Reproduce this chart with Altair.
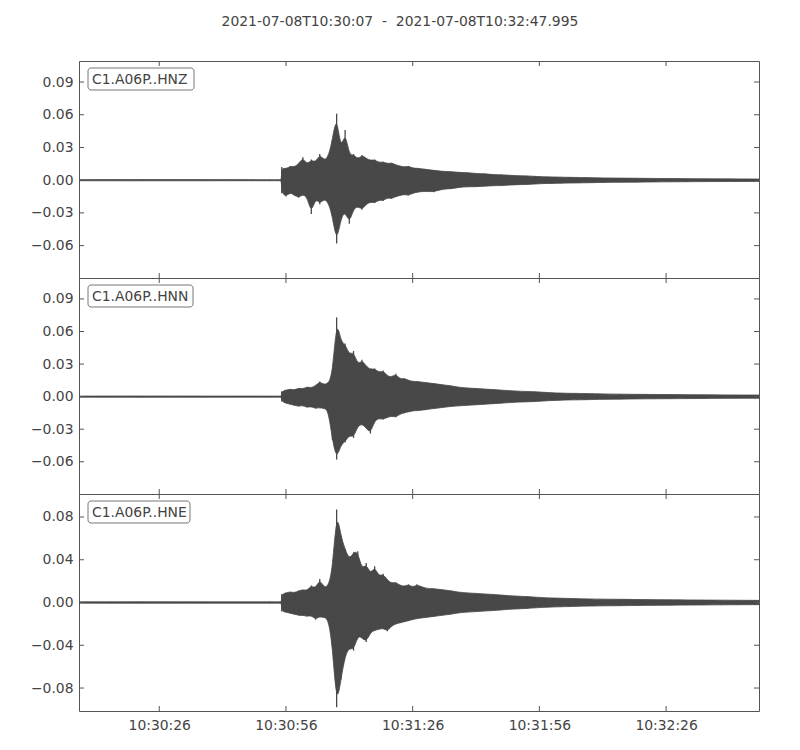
import altair as alt
import pandas as pd

# ---------------- data ----------------
TITLE = "2021-07-08T10:30:07\u00a0\u00a0-\u00a0\u00a02021-07-08T10:32:47.995"
CHANNELS = ["C1.A06P..HNZ", "C1.A06P..HNN", "C1.A06P..HNE"]
DURATION_S = 160.995  # seconds after 10:30:07

# envelope sample times (seconds after 10:30:07)
TIME_S = [0, 15, 30, 45, 47, 47.6, 47.95,
          48, 49, 50, 51, 52, 53, 54, 55, 56, 57, 58, 59,
          60, 61, 62, 63, 64, 65, 66, 67, 68, 69, 70, 71, 72, 73, 74, 75, 76, 77, 78, 79, 80,
          82, 84, 86, 88, 90, 92, 94, 96, 98, 100, 102, 104, 106, 108, 110, 112, 114, 116, 118, 120,
          124, 128, 132, 136, 140, 144, 148, 152, 156, 160, 160.99]

# HNZ envelope (upper / lower)
Z_UP = [0.0005, 0.0006, 0.0005, 0.0005, 0.0005, 0.0005, 0.0005,
        0.012, 0.010, 0.013, 0.012, 0.015, 0.021, 0.014, 0.019, 0.016, 0.024, 0.018, 0.021,
        0.037, 0.061, 0.026, 0.046, 0.022, 0.024, 0.019, 0.023, 0.020, 0.018, 0.019, 0.016, 0.017, 0.015, 0.016, 0.014, 0.013, 0.012, 0.013, 0.011, 0.011,
        0.010, 0.009, 0.008, 0.008, 0.007, 0.007, 0.006, 0.006, 0.005, 0.005, 0.0045, 0.004, 0.004, 0.0035, 0.003, 0.003, 0.0028, 0.0026, 0.0025, 0.0024,
        0.002, 0.0019, 0.0018, 0.0016, 0.0015, 0.0014, 0.0013, 0.0012, 0.0012, 0.0011, 0.0011]
Z_LO = [-0.0005, -0.0006, -0.0005, -0.0005, -0.0005, -0.0005, -0.0005,
        -0.012, -0.015, -0.011, -0.014, -0.016, -0.013, -0.015, -0.031, -0.016, -0.022, -0.017, -0.020,
        -0.033, -0.058, -0.035, -0.028, -0.040, -0.026, -0.024, -0.027, -0.022, -0.020, -0.021, -0.018, -0.019, -0.016, -0.017, -0.015, -0.014, -0.013, -0.014, -0.012, -0.011,
        -0.010, -0.011, -0.008, -0.008, -0.0065, -0.006, -0.006, -0.0055, -0.005, -0.005, -0.0045, -0.004, -0.004, -0.0035, -0.003, -0.003, -0.0028, -0.0026, -0.0025, -0.0024,
        -0.002, -0.0019, -0.0018, -0.0016, -0.0015, -0.0014, -0.0013, -0.0012, -0.0012, -0.0011, -0.0011]

# HNN envelope
N_UP = [0.0005, 0.0006, 0.0005, 0.0005, 0.0005, 0.0005, 0.0005,
        0.005, 0.006, 0.007, 0.006, 0.008, 0.007, 0.009, 0.008, 0.010, 0.014, 0.011, 0.012,
        0.020, 0.073, 0.050, 0.049, 0.038, 0.042, 0.029, 0.034, 0.028, 0.025, 0.026, 0.022, 0.024, 0.019, 0.018, 0.021, 0.016, 0.017, 0.015, 0.014, 0.014,
        0.013, 0.012, 0.011, 0.010, 0.0085, 0.008, 0.0075, 0.007, 0.0065, 0.006, 0.0055, 0.005, 0.0048, 0.0045, 0.004, 0.0035, 0.0033, 0.003, 0.003, 0.0028,
        0.0025, 0.0023, 0.0021, 0.002, 0.0019, 0.0018, 0.0017, 0.0016, 0.0015, 0.0015, 0.0015]
N_LO = [-0.0005, -0.0006, -0.0005, -0.0005, -0.0005, -0.0005, -0.0005,
        -0.0045, -0.006, -0.007, -0.008, -0.009, -0.008, -0.010, -0.009, -0.011, -0.010, -0.011, -0.012,
        -0.040, -0.058, -0.044, -0.042, -0.035, -0.038, -0.027, -0.025, -0.029, -0.034, -0.022, -0.020, -0.021, -0.019, -0.018, -0.019, -0.016, -0.015, -0.014, -0.013, -0.013,
        -0.012, -0.011, -0.010, -0.009, -0.0085, -0.008, -0.0075, -0.007, -0.0065, -0.006, -0.0055, -0.005, -0.0048, -0.0045, -0.004, -0.0035, -0.0033, -0.003, -0.003, -0.0028,
        -0.0025, -0.0023, -0.0021, -0.002, -0.0019, -0.0018, -0.0017, -0.0016, -0.0015, -0.0015, -0.0015]

# HNE envelope
E_UP = [0.0006, 0.0007, 0.0006, 0.0006, 0.0006, 0.0006, 0.0006,
        0.008, 0.009, 0.010, 0.009, 0.011, 0.012, 0.011, 0.016, 0.013, 0.022, 0.014, 0.015,
        0.030, 0.087, 0.062, 0.050, 0.040, 0.047, 0.048, 0.030, 0.037, 0.026, 0.034, 0.024, 0.027, 0.021, 0.018, 0.019, 0.016, 0.015, 0.017, 0.014, 0.017,
        0.013, 0.013, 0.012, 0.011, 0.0095, 0.009, 0.0085, 0.008, 0.0075, 0.007, 0.0062, 0.006, 0.0055, 0.005, 0.0045, 0.0042, 0.004, 0.0038, 0.0036, 0.0034,
        0.0031, 0.003, 0.0028, 0.0027, 0.0025, 0.0024, 0.0023, 0.0022, 0.0021, 0.002, 0.002]
E_LO = [-0.0006, -0.0007, -0.0006, -0.0006, -0.0006, -0.0006, -0.0006,
        -0.0085, -0.009, -0.010, -0.011, -0.012, -0.012, -0.013, -0.012, -0.016, -0.013, -0.014, -0.015,
        -0.040, -0.098, -0.072, -0.050, -0.042, -0.045, -0.031, -0.033, -0.037, -0.028, -0.026, -0.025, -0.024, -0.027, -0.022, -0.020, -0.019, -0.018, -0.017, -0.016, -0.015,
        -0.014, -0.013, -0.012, -0.011, -0.0095, -0.009, -0.0085, -0.008, -0.0075, -0.007, -0.0062, -0.006, -0.0055, -0.005, -0.0045, -0.0042, -0.004, -0.0038, -0.0036, -0.0034,
        -0.0031, -0.003, -0.0028, -0.0027, -0.0025, -0.0024, -0.0023, -0.0022, -0.0021, -0.002, -0.002]

X_TICKS = [19, 49, 79, 109, 139]
X_TICK_LABELS = ["10:30:26", "10:30:56", "10:31:26", "10:31:56", "10:32:26"]
Y_TICKS_ZN = [-0.06, -0.03, 0.0, 0.03, 0.06, 0.09]
Y_TICKS_E = [-0.08, -0.04, 0.0, 0.04, 0.08]
Y_DOMAIN_ZN = [-0.0897, 0.1093]
Y_DOMAIN_E = [-0.1015, 0.1015]

# ---------------- style ----------------
FONT = "DejaVu Sans"
FS = 13.9
TEXT = "#444444"
FRAME = "#555555"
TRACE = "#484848"
W = 680
HEIGHTS = [217, 216, 217]
BOX_W = [106, 105, 102]
TICK_LEN = 5

label_expr = ("[" + ",".join("'%s'" % s for s in X_TICK_LABELS) + "][indexof(["
              + ",".join(str(v) for v in X_TICKS) + "], datum.value)]")


def panel(idx, up, lo, yticks, ydom, show_xlabels):
    h = HEIGHTS[idx]
    df = pd.DataFrame({"t": TIME_S, "up": up, "lo": lo})
    xscale = alt.Scale(domain=[0, DURATION_S], nice=False, zero=False)
    yscale = alt.Scale(domain=ydom, nice=False, zero=False)
    xaxis = alt.Axis(values=X_TICKS, labelExpr=label_expr, ticks=False, domain=False,
                     grid=False, labelPadding=7, title=None, labelFlush=False,
                     labels=show_xlabels)
    yaxis = alt.Axis(values=yticks, format=".2f", ticks=False, domain=False, grid=False,
                     labelPadding=6, minExtent=46, maxExtent=46, title=None)

    def X(field):
        return alt.X(field, scale=xscale, axis=xaxis, title=None)

    def Y(field):
        return alt.Y(field, scale=yscale, axis=yaxis, title=None)

    # smooth body of the trace
    body = alt.Chart(df).mark_area(color=TRACE, stroke=TRACE, strokeWidth=0.8,
                                   interpolate="basis", clip=True).encode(
        x=X("t:Q"), y=Y("up:Q"), y2="lo:Q")
    # peak excursions at each sample as thin strokes
    spikes = alt.Chart(df).mark_rule(color=TRACE, strokeWidth=1.3, clip=True).encode(
        x=X("t:Q"), y=Y("up:Q"), y2="lo:Q")

    xt = pd.DataFrame({"t": X_TICKS})
    yt = pd.DataFrame({"v": yticks})
    xtick_b = alt.Chart(xt).mark_rule(color=FRAME, strokeWidth=1).encode(
        x=X("t:Q"), y=alt.value(h), y2=alt.value(h - TICK_LEN))
    xtick_t = alt.Chart(xt).mark_rule(color=FRAME, strokeWidth=1).encode(
        x=X("t:Q"), y=alt.value(0), y2=alt.value(TICK_LEN))
    ytick_l = alt.Chart(yt).mark_rule(color=FRAME, strokeWidth=1).encode(
        y=Y("v:Q"), x=alt.value(0), x2=alt.value(TICK_LEN))
    ytick_r = alt.Chart(yt).mark_rule(color=FRAME, strokeWidth=1).encode(
        y=Y("v:Q"), x=alt.value(W), x2=alt.value(W - TICK_LEN))

    name_df = pd.DataFrame({"name": [CHANNELS[idx]]})
    box = alt.Chart(name_df).mark_rect(fill="white", stroke="#777777", strokeWidth=1,
                                       cornerRadius=3).encode(
        x=alt.value(9), x2=alt.value(9 + BOX_W[idx]), y=alt.value(7), y2=alt.value(29))
    txt = alt.Chart(name_df).mark_text(align="left", baseline="middle", font=FONT,
                                       fontSize=FS, color=TEXT).encode(
        x=alt.value(13), y=alt.value(18.5), text="name:N")

    return alt.layer(body, spikes, xtick_b, xtick_t, ytick_l, ytick_r, box, txt).properties(
        width=W, height=h)


p1 = panel(0, Z_UP, Z_LO, Y_TICKS_ZN, Y_DOMAIN_ZN, False)
p2 = panel(1, N_UP, N_LO, Y_TICKS_ZN, Y_DOMAIN_ZN, False)
p3 = panel(2, E_UP, E_LO, Y_TICKS_E, Y_DOMAIN_E, True)

chart = alt.vconcat(p1, p2, p3, spacing=0, bounds="flush").properties(
    title=alt.Title(TITLE, font=FONT, fontSize=FS, fontWeight="normal", color=TEXT,
                    anchor="middle", offset=31, dx=5),
    padding={"left": 21, "top": 7, "right": 10, "bottom": 10},
).configure_view(stroke=FRAME, strokeWidth=1).configure_axis(
    labelFont=FONT, labelFontSize=FS, labelColor=TEXT
).configure_concat(spacing=0)

chart.save("out.html", embed_options={"renderer": "svg", "actions": False})
